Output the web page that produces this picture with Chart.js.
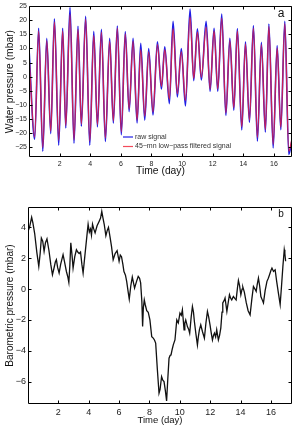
<!DOCTYPE html>
<html>
<head>
<meta charset="utf-8">
<script src="https://cdn.jsdelivr.net/npm/chart.js@4.4.1/dist/chart.umd.min.js"></script>
<style>
html, body { margin: 0; padding: 0; background: #fff; }
#wrap { position: relative; width: 298px; height: 431px; }
canvas { position: absolute; left: 0; }
#chartA { top: 0; }
#chartB { top: 190px; }
</style>
</head>
<body>
<div id="wrap">
<canvas id="chartA" width="298" height="182"></canvas>
<canvas id="chartB" width="298" height="241"></canvas>
</div>
<script>
// panel a : water pressure (mbar) at the turning points
var dayA = [0, 0.37, 0.63, 0.9, 1.16, 1.42, 1.66, 1.94, 2.2, 2.4, 2.68, 2.94, 3.2, 3.42, 3.7, 3.97,
    4.23, 4.47, 4.73, 4.99, 5.27, 5.51, 5.77, 6.03, 6.29, 6.54, 6.8, 7.06, 7.3, 7.56, 7.82, 8.1,
    8.39, 8.65, 8.87, 9.17, 9.41, 9.69, 9.95, 10.22, 10.52, 10.76, 11.0, 11.26, 11.57, 11.83, 12.09,
    12.33, 12.59, 12.86, 13.12, 13.38, 13.61, 13.9, 14.14, 14.4, 14.66, 14.92, 15.18, 15.44, 15.67,
    15.95, 16.21, 16.45, 16.71, 16.97, 17.18];
var rawA = [10, -22.2, 17.2, -26.5, 13.6, -20.2, 20.5, -24.3, 17.2, -18.2, 24.6, -23.6, 17.9, -17.6, 21.4, -24.3,
    16.1, -17.8, 16.8, -23.0, 13.6, -16.5, 18.0, -20.6, 16.0, -12.4, 13.6, -16.4, 11.8, -15.4, 10.0, -13.6,
    12.4, -4.4, 10.6, -9.6, 19.6, -7.2, 10.0, -10.4, 24.0, -1.4, 17.0, -1.2, 19.6, -5.2, 17.2,
    -5.2, 22.2, -13.8, 13.6, -11.9, 17.1, -18.9, 12.4, -16.2, 18.1, -22.9, 12.2, -19.7, 18.7,
    -25.3, 11.0, -18.8, 19.6, -27.6, -22.5];
var filtA = [7.5, -21.4, 16.2, -25.2, 12.8, -19.4, 19.4, -22.6, 16.2, -17.4, 22.2, -22.4, 16.8, -16.8, 20.4, -22.8,
    14.6, -17.0, 15.8, -21.8, 12.6, -15.7, 17.2, -19.6, 15.2, -11.5, 12.6, -15.4, 9.6, -14.0, 8.8, -12.5,
    11.4, -3.4, 9.6, -8.0, 17.0, -6.0, 8.8, -8.4, 21.2, -0.6, 15.8, -0.2, 17.6, -4.4, 16.2,
    -4.4, 20.8, -12.8, 12.8, -11.0, 16.2, -17.8, 11.6, -15.4, 17.2, -21.6, 11.4, -18.8, 17.8,
    -24.0, 10.2, -18.0, 18.8, -26.4, -22.0];
var xTicksA = [2, 4, 6, 8, 10, 12, 14, 16];
var yTicksA = [-25, -20, -15, -10, -5, 0, 5, 10, 15, 20, 25];

// panel b : barometric pressure (mbar)
var dayB = [0.00, 0.10, 0.24, 0.32, 0.44, 0.58, 0.71, 0.80, 0.88, 0.97, 1.06, 1.15, 1.25, 1.38, 1.50, 1.61,
    1.70, 1.80, 1.87, 1.95, 2.05, 2.15, 2.31, 2.40, 2.53, 2.62, 2.69, 2.76, 2.82, 2.90, 2.97, 3.08,
    3.19, 3.28, 3.37, 3.46, 3.55, 3.63, 3.75, 3.90, 3.96, 4.04, 4.12, 4.18, 4.25, 4.33, 4.42, 4.55,
    4.69, 4.78, 4.86, 4.94, 5.02, 5.13, 5.22, 5.30, 5.40, 5.50, 5.61, 5.74, 5.87, 6.00, 6.08, 6.16,
    6.25, 6.32, 6.42, 6.50, 6.60, 6.67, 6.77, 6.87, 6.95, 7.02, 7.15, 7.26, 7.35, 7.42, 7.50, 7.55,
    7.60, 7.66, 7.72, 7.82, 7.92, 8.03, 8.15, 8.25, 8.33, 8.41, 8.52, 8.63, 8.70, 8.80, 8.88, 8.96,
    9.05, 9.13, 9.21, 9.29, 9.36, 9.42, 9.50, 9.57, 9.68, 9.80, 9.90, 10.01, 10.10, 10.17, 10.28, 10.33,
    10.39, 10.50, 10.58, 10.65, 10.75, 10.83, 10.90, 10.96, 11.06, 11.16, 11.22, 11.29, 11.38, 11.49, 11.62, 11.72,
    11.82, 11.90, 11.99, 12.08, 12.15, 12.22, 12.28, 12.36, 12.43, 12.54, 12.62, 12.70, 12.78, 12.83, 12.94, 12.98,
    13.10, 13.20, 13.27, 13.35, 13.42, 13.53, 13.62, 13.71, 13.80, 13.86, 13.94, 14.02, 14.10, 14.15, 14.25, 14.38,
    14.50, 14.63, 14.75, 14.85, 14.95, 15.03, 15.10, 15.18, 15.26, 15.34, 15.43, 15.51, 15.62, 15.74, 15.83, 15.91,
    16.00, 16.07, 16.17, 16.28, 16.38, 16.50, 16.61, 16.70, 16.79, 16.88, 16.92, 16.97];
var baroB = [3.74, 4.0, 4.65, 4.3, 3.6, 2.4, 1.47, 2.3, 3.3, 3.1, 2.45, 3.0, 3.25, 2.5, 1.6, 0.93,
    1.3, 1.75, 1.9, 1.4, 1.04, 1.6, 2.23, 1.8, 1.14, 0.8, 0.43, 1.6, 3.0, 2.2, 1.36, 2.1,
    2.55, 2.4, 2.3, 2.4, 1.6, 1.04, 2.2, 3.64, 4.2, 3.7, 3.9, 3.5, 4.2, 3.9, 3.64, 4.1,
    4.4, 4.6, 5.04, 4.6, 4.2, 3.46, 3.8, 4.0, 3.4, 2.77, 1.9, 2.3, 2.49, 1.8, 2.2, 2.1,
    1.6, 1.14, 0.9, 0.5, -0.2, -0.65, 0.2, 0.78, 0.4, 0.06, 0.5, 0.82, 0.7, 0.4, -0.8, -2.43,
    -1.2, -0.7, -1.0, -1.4, -1.5, -2.0, -3.08, -3.18, -3.3, -3.5, -5.2, -6.75, -6.5, -5.67, -5.9, -6.0,
    -6.6, -7.25, -5.8, -4.48, -4.3, -4.27, -3.9, -3.62, -3.3, -2.0, -2.2, -1.56, -1.7, -1.34, -2.64, -2.2,
    -2.0, -2.43, -2.6, -2.86, -1.8, -1.13, -1.5, -2.1, -2.9, -3.62, -3.1, -2.64, -2.32, -2.75, -3.18, -2.2,
    -1.45, -1.8, -2.32, -2.9, -3.3, -3.0, -2.86, -3.1, -2.64, -3.3, -3.0, -2.53, -1.5, -0.9, -0.7, -0.58,
    -1.45, -0.8, -0.37, -0.6, -0.7, -0.48, -0.6, -0.7, 0.1, 0.56, 0.2, -0.37, 0.0, 0.13, -0.2, -0.9,
    -1.4, -1.67, -0.6, 0.17, 0.0, -0.15, 0.3, 0.71, 0.2, -0.48, -0.7, -0.9, -0.1, 0.5, 0.7, 0.93,
    1.2, 1.36, 1.14, 1.25, 0.5, -0.3, -1.0, 0.2, 1.47, 2.55, 2.3, 1.8];
var xTicksB = [2, 4, 6, 8, 10, 12, 14, 16];
var yTicksB = [-6, -4, -2, 0, 2, 4];

Chart.defaults.font.family = '"Liberation Sans", Arial, Helvetica, sans-serif';
Chart.defaults.color = '#222';

function pairs(xs, ys) {
    return xs.map(function (x, i) { return { x: x, y: ys[i] }; });
}
function minus(v) {
    return String(v).replace('-', '\u2212');
}
function setTicks(list) {
    return function (scale) {
        scale.ticks = list.map(function (v) { return { value: v }; });
    };
}

// box round the plot area with small inward ticks on all four sides
var framePlugin = {
    id: 'frame',
    afterDraw: function (chart) {
        var ctx = chart.ctx, a = chart.chartArea;
        var xs = chart.scales.x, ys = chart.scales.y;
        var L = Math.round(a.left) + 0.5, R = Math.round(a.right) - 0.5;
        var T = Math.round(a.top) + 0.5, B = Math.round(a.bottom) - 0.5;
        ctx.save();
        ctx.strokeStyle = '#000';
        ctx.lineWidth = 1;
        ctx.beginPath();
        ctx.rect(L, T, R - L, B - T);
        xs.ticks.forEach(function (t) {
            var px = Math.round(xs.getPixelForValue(t.value)) + 0.5;
            ctx.moveTo(px, B); ctx.lineTo(px, B - 3);
            ctx.moveTo(px, T); ctx.lineTo(px, T + 3);
        });
        ys.ticks.forEach(function (t) {
            var py = Math.round(ys.getPixelForValue(t.value)) + 0.5;
            ctx.moveTo(L, py); ctx.lineTo(L + 3, py);
            ctx.moveTo(R, py); ctx.lineTo(R - 3, py);
        });
        ctx.stroke();
        var lab = chart.options.plugins.frame;
        if (lab && lab.text) {
            ctx.fillStyle = '#111';
            ctx.font = lab.size + 'px "Liberation Sans", Arial, sans-serif';
            ctx.textAlign = 'center';
            ctx.textBaseline = 'middle';
            ctx.fillText(lab.text, a.right - 11, a.top + lab.dy);
        }
        ctx.restore();
    }
};

// small legend inside panel a, no frame
var keyPlugin = {
    id: 'key',
    afterDraw: function (chart) {
        var opt = chart.options.plugins.key;
        if (!opt) return;
        var ctx = chart.ctx;
        ctx.save();
        ctx.font = '7px "Liberation Sans", Arial, sans-serif';
        ctx.textBaseline = 'middle';
        ctx.textAlign = 'left';
        chart.data.datasets.forEach(function (ds, i) {
            var y = opt.y + i * opt.gap;
            ctx.strokeStyle = ds.borderColor;
            ctx.lineWidth = 1.2;
            ctx.beginPath();
            ctx.moveTo(opt.x, y); ctx.lineTo(opt.x + 10, y);
            ctx.stroke();
            ctx.fillStyle = '#333';
            ctx.fillText(ds.label, opt.x + 12, y);
        });
        ctx.restore();
    }
};

var chartA = new Chart(document.getElementById('chartA'), {
    type: 'line',
    data: {
        datasets: [{
            label: 'raw signal',
            data: pairs(dayA, rawA),
            borderColor: '#1f1fe6',
            borderWidth: 1.6,
            cubicInterpolationMode: 'monotone',
            pointRadius: 0,
            order: 2
        }, {
            label: '45\u2212mn low\u2212pass filtered signal',
            data: pairs(dayA, filtA),
            borderColor: 'rgba(240,30,50,0.8)',
            borderWidth: 1.3,
            cubicInterpolationMode: 'monotone',
            pointRadius: 0,
            order: 1
        }]
    },
    options: {
        responsive: false,
        animation: false,
        devicePixelRatio: 1,
        layout: { padding: { top: 6, right: 6, left: 0, bottom: 0 } },
        plugins: {
            legend: { display: false },
            tooltip: { enabled: false },
            frame: { text: 'a', size: 12, dy: 7 },
            key: { x: 123, y: 137, gap: 9.5 }
        },
        scales: {
            x: {
                type: 'linear', min: 0, max: 17.18,
                afterBuildTicks: setTicks(xTicksA),
                afterFit: function (s) { s.height = 25; },
                grid: { display: false, drawTicks: false },
                border: { display: false },
                ticks: { font: { size: 7 }, padding: 3, maxRotation: 0, callback: minus },
                title: { display: true, text: 'Time (day)', font: { size: 10.3 }, color: '#111', padding: { top: 0, bottom: 5 } }
            },
            y: {
                min: -28.5, max: 25,
                afterBuildTicks: setTicks(yTicksA),
                afterFit: function (s) { s.width = 29; },
                grid: { display: false, drawTicks: false },
                border: { display: false },
                ticks: { font: { size: 7 }, padding: 2, callback: minus },
                title: { display: true, text: 'Water pressure (mbar)', font: { size: 10.3 }, color: '#111', padding: { top: 4, bottom: 0 } }
            }
        }
    },
    plugins: [framePlugin, keyPlugin]
});

var chartB = new Chart(document.getElementById('chartB'), {
    type: 'line',
    data: {
        datasets: [{
            label: 'barometric pressure',
            data: pairs(dayB, baroB),
            borderColor: '#111',
            borderWidth: 1.3,
            tension: 0,
            pointRadius: 0
        }]
    },
    options: {
        responsive: false,
        animation: false,
        devicePixelRatio: 1,
        layout: { padding: { top: 17, right: 6, left: 0, bottom: 0 } },
        plugins: {
            legend: { display: false },
            tooltip: { enabled: false },
            frame: { text: 'b', size: 10, dy: 7 }
        },
        scales: {
            x: {
                type: 'linear', min: 0, max: 17.39,
                afterBuildTicks: setTicks(xTicksB),
                afterFit: function (s) { s.height = 27; },
                grid: { display: false, drawTicks: false },
                border: { display: false },
                ticks: { font: { size: 9 }, padding: 3, maxRotation: 0, callback: minus },
                title: { display: true, text: 'Time (day)', font: { size: 9.5 }, color: '#111', padding: { top: 0, bottom: 5 } }
            },
            y: {
                min: -7.45, max: 5.32,
                afterBuildTicks: setTicks(yTicksB),
                afterFit: function (s) { s.width = 28; },
                grid: { display: false, drawTicks: false },
                border: { display: false },
                ticks: { font: { size: 9 }, padding: 2, callback: minus },
                title: { display: true, text: 'Barometric pressure (mbar)', font: { size: 10 }, color: '#111', padding: { top: 4, bottom: 0 } }
            }
        }
    },
    plugins: [framePlugin]
});
</script>
</body>
</html>
